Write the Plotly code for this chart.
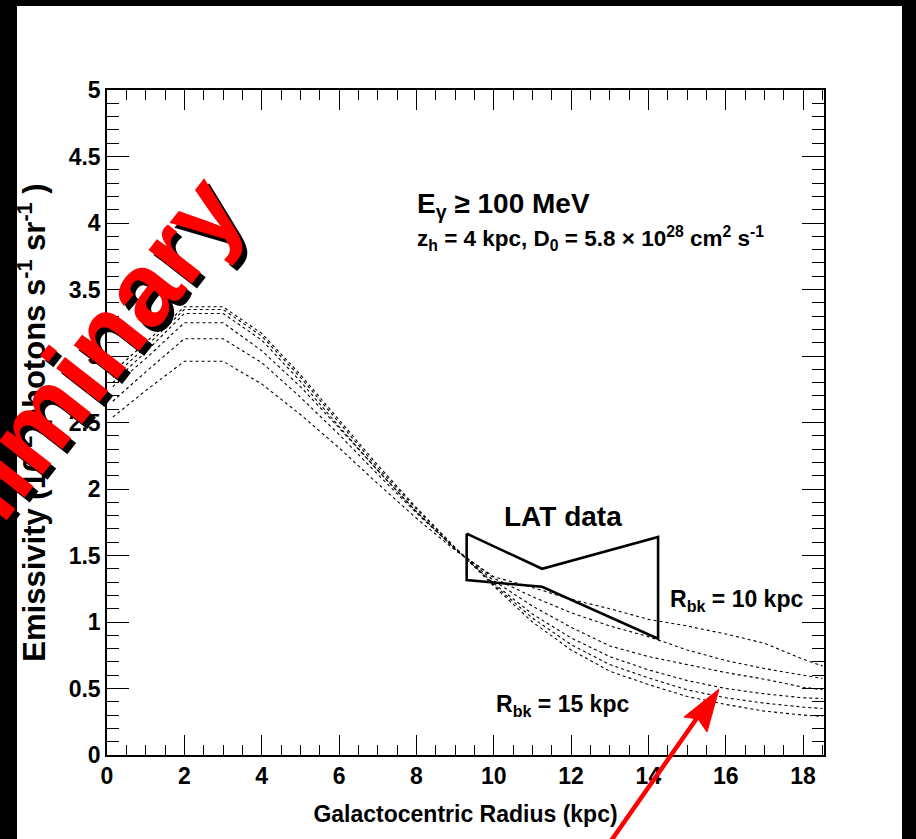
import plotly.graph_objects as go

# Galactocentric radius grid (kpc) for the model emissivity profiles
radius = [0.15, 1, 2, 3, 4, 5, 6, 7, 8, 9, 10, 11, 12, 13, 14, 15, 16, 17, 18, 18.5]

# Model emissivity (10^-2 photons s^-1 sr^-1), z_h = 4 kpc, varying R_bk
model_rbk10 = [2.54, 2.74, 2.96, 2.96, 2.79, 2.56, 2.31, 2.04, 1.78, 1.54, 1.34, 1.26, 1.17, 1.10, 1.02, 0.97, 0.91, 0.84, 0.72, 0.67]
model_rbk11 = [2.66, 2.88, 3.13, 3.13, 2.95, 2.69, 2.41, 2.11, 1.82, 1.55, 1.33, 1.19, 1.07, 0.97, 0.89, 0.79, 0.71, 0.65, 0.60, 0.575]
model_rbk12 = [2.77, 2.98, 3.25, 3.25, 3.04, 2.77, 2.46, 2.14, 1.83, 1.55, 1.31, 1.12, 0.96, 0.82, 0.74, 0.68, 0.62, 0.57, 0.51, 0.49]
model_rbk13 = [2.80, 3.03, 3.32, 3.32, 3.12, 2.81, 2.47, 2.14, 1.83, 1.55, 1.29, 1.06, 0.88, 0.74, 0.64, 0.56, 0.50, 0.46, 0.43, 0.425]
model_rbk14 = [2.84, 3.07, 3.35, 3.35, 3.15, 2.84, 2.50, 2.16, 1.85, 1.56, 1.28, 1.03, 0.83, 0.68, 0.58, 0.49, 0.43, 0.39, 0.36, 0.35]
model_rbk15 = [2.88, 3.10, 3.37, 3.37, 3.17, 2.86, 2.52, 2.18, 1.86, 1.56, 1.27, 1.00, 0.79, 0.63, 0.53, 0.44, 0.38, 0.33, 0.30, 0.29]
models = [model_rbk10, model_rbk11, model_rbk12, model_rbk13, model_rbk14, model_rbk15]

# LAT measurement band (bow-tie): radius and upper / lower emissivity bounds
lat_radius = [9.3, 11.25, 14.25]
lat_upper = [1.665, 1.40, 1.64]
lat_lower = [1.315, 1.265, 0.875]

x_ticks = [0, 2, 4, 6, 8, 10, 12, 14, 16, 18]
y_ticks = [0, 0.5, 1, 1.5, 2, 2.5, 3, 3.5, 4, 4.5, 5]
y_tick_text = ["0", "0.5", "1", "1.5", "2", "2.5", "3", "3.5", "4", "4.5", "5"]

W, H = 916, 839
ML, MR, MT, MB = 107, 92, 90, 84
PW, PH = W - ML - MR, H - MT - MB


def px(x):
    return (x - ML) / PW


def py(y):
    return (H - MB - y) / PH


FONT = "Liberation Sans, Arial, Helvetica, sans-serif"

fig = go.Figure()

for vals in models:
    fig.add_trace(go.Scatter(
        x=radius, y=vals, mode="lines",
        line=dict(color="black", width=1.1, dash="3px,3px"),
        hoverinfo="skip", showlegend=False,
    ))

# closed bow-tie outline
bow_x = lat_radius + lat_radius[::-1] + [lat_radius[0]]
bow_y = lat_upper + lat_lower[::-1] + [lat_upper[0]]
fig.add_trace(go.Scatter(
    x=bow_x, y=bow_y, mode="lines",
    line=dict(color="black", width=2.6),
    hoverinfo="skip", showlegend=False,
))

axis_common = dict(
    showgrid=False, zeroline=False, showline=True, linecolor="black", linewidth=1.5,
    mirror="ticks", ticks="inside", tickcolor="black", tickwidth=1.2,
    tickfont=dict(family=FONT, size=23, color="black", weight="bold"),
)

fig.update_xaxes(
    range=[0, 18.54], tickvals=x_ticks, ticklen=20,
    minor=dict(dtick=0.5, tick0=0, ticks="inside", ticklen=10, tickcolor="black", tickwidth=1.2),
    title=dict(text="Galactocentric Radius (kpc)", font=dict(family=FONT, size=23, color="black", weight="bold"), standoff=18),
    **axis_common,
)
fig.update_yaxes(
    range=[0, 5], tickvals=y_ticks, ticktext=y_tick_text, ticklen=22,
    minor=dict(dtick=0.1, tick0=0, ticks="inside", ticklen=12, tickcolor="black", tickwidth=1.2),
    title=dict(text="Emissivity (10<sup>-2</sup> photons s<sup>-1</sup> sr<sup>-1</sup> )", font=dict(family=FONT, size=31, color="black", weight="bold"), standoff=14),
    **axis_common,
)

shapes = [
    # white page area framed by the black border
    dict(type="rect", xref="paper", yref="paper", layer="below",
         x0=px(17), x1=px(902), y0=py(6), y1=py(845),
         fillcolor="white", line=dict(width=0)),
    # red pointer arrow: shaft and head
    dict(type="line", xref="paper", yref="paper", layer="above",
         x0=px(606), y0=py(848), x1=px(697), y1=py(718),
         line=dict(color="red", width=4.5)),
    dict(type="path", xref="paper", yref="paper", layer="above",
         path=f"M {px(719)},{py(689)} L {px(684)},{py(717)} L {px(698)},{py(719)} L {px(707)},{py(732)} Z",
         fillcolor="red", line=dict(color="red", width=1)),
]

annotations = [
    dict(text="E<sub>γ</sub> ≥ 100 MeV", x=px(415), y=py(205), font=dict(size=28)),
    dict(text="z<sub>h</sub> = 4 kpc, D<sub>0</sub> = 5.8 × 10<sup>28</sup> cm<sup>2</sup> s<sup>-1</sup>",
         x=px(415), y=py(238), font=dict(size=22.5)),
    dict(text="LAT data", x=px(502), y=py(516), font=dict(size=28)),
    dict(text="R<sub>bk</sub> = 10 kpc", x=px(668), y=py(600), font=dict(size=23)),
    dict(text="R<sub>bk</sub> = 15 kpc", x=px(494), y=py(705), font=dict(size=23)),
]
for a in annotations:
    a.update(xref="paper", yref="paper", xanchor="left", yanchor="middle", showarrow=False)
    a["font"].update(family=FONT, color="black", weight="bold")

# "Preliminary" stamp with a black drop shadow
for dx, dy, col in [(5, 5, "black"), (0, 0, "red")]:
    annotations.append(dict(
        text="Preliminary", xref="paper", yref="paper",
        x=px(45 + dx), y=py(413 + dy), xanchor="center", yanchor="middle",
        textangle=-52, showarrow=False,
        font=dict(family=FONT, size=104, color=col, weight="bold"),
    ))

fig.update_layout(
    width=W, height=H,
    margin=dict(l=ML, r=MR, t=MT, b=MB),
    paper_bgcolor="black", plot_bgcolor="white",
    shapes=shapes, annotations=annotations,
)

fig.write_html("out.html")
